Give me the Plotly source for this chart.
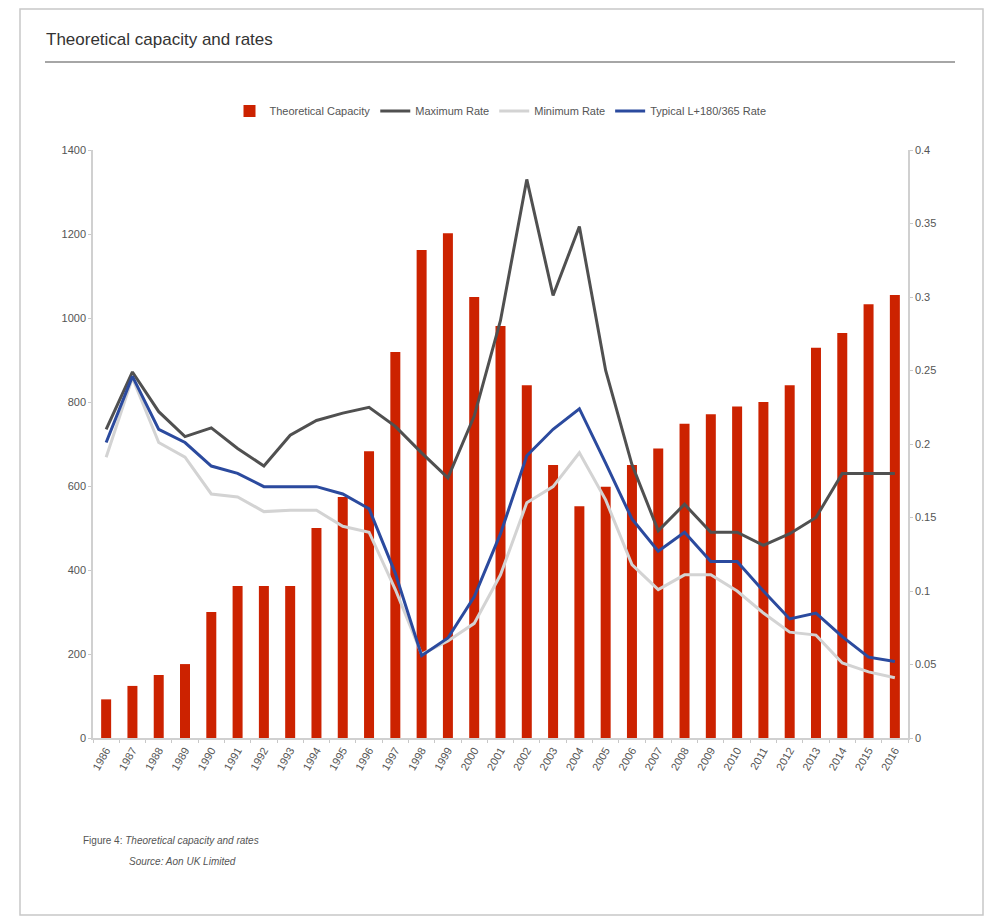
import plotly.graph_objects as go

years = [str(y) for y in range(1986, 2017)]
capacity = [92, 124, 150, 176, 300, 362, 362, 362, 500, 574, 683, 919, 1162, 1202, 1050, 981,
            840, 650, 552, 598, 650, 689, 748, 771, 789, 800, 840, 929, 964, 1033, 1055]
max_rate = [0.210, 0.249, 0.222, 0.205, 0.211, 0.197, 0.185, 0.206, 0.216, 0.221, 0.225, 0.212,
            0.194, 0.177, 0.219, 0.284, 0.380, 0.301, 0.348, 0.250, 0.186, 0.141, 0.159, 0.140,
            0.140, 0.131, 0.139, 0.150, 0.180, 0.180, 0.180]
min_rate = [0.191, 0.245, 0.201, 0.191, 0.166, 0.164, 0.154, 0.155, 0.155, 0.144, 0.140, 0.101,
            0.057, 0.066, 0.078, 0.111, 0.160, 0.171, 0.194, 0.162, 0.118, 0.101, 0.111, 0.111,
            0.100, 0.085, 0.072, 0.070, 0.051, 0.045, 0.041]
typical_rate = [0.201, 0.246, 0.210, 0.201, 0.185, 0.180, 0.171, 0.171, 0.171, 0.166, 0.156, 0.112,
                0.056, 0.068, 0.096, 0.139, 0.192, 0.210, 0.224, 0.187, 0.149, 0.127, 0.140, 0.120,
                0.120, 0.100, 0.081, 0.085, 0.069, 0.055, 0.052]

FONT = "Liberation Sans Narrow, Liberation Sans, Arial, sans-serif"

fig = go.Figure()
fig.add_trace(go.Bar(x=years, y=capacity, name="Theoretical Capacity",
                     marker=dict(color="#CC2200", line=dict(width=0)), width=0.38))
fig.add_trace(go.Scatter(x=years, y=max_rate, name="Maximum Rate", mode="lines",
                         line=dict(color="#505050", width=3), yaxis="y2"))
fig.add_trace(go.Scatter(x=years, y=min_rate, name="Minimum Rate", mode="lines",
                         line=dict(color="#D3D3D3", width=3), yaxis="y2"))
fig.add_trace(go.Scatter(x=years, y=typical_rate, name="Typical L+180/365 Rate", mode="lines",
                         line=dict(color="#2B4A9E", width=3), yaxis="y2"))

# page body has an 8px margin; plot area target in screen pixels
OFF = 8
W, H = 996 - OFF, 923 - OFF
L, R, T, B = 93, 908, 150, 738
pw, ph = R - L, B - T

def px(x):
    return (x - L) / pw

def py(y):
    return (B - y) / ph

axis_common = dict(showgrid=False, zeroline=False, showline=True, linecolor="#D0D0D0",
                   linewidth=1.5, ticks="outside", ticklen=3, tickcolor="#C8C8C8",
                   tickfont=dict(family=FONT, size=11, color="#555555"))

fig.update_layout(
    width=W, height=H,
    margin=dict(l=L - OFF, r=W - (R - OFF), t=T - OFF, b=H - (B - OFF)),
    paper_bgcolor="white", plot_bgcolor="white",
    font=dict(family=FONT, color="#444444"),
    showlegend=True,
    legend=dict(orientation="h", x=0.5, xanchor="center", y=py(111), yanchor="middle",
                font=dict(family=FONT, size=11, color="#555555"),
                itemwidth=30, tracegroupgap=0, traceorder="normal"),
    xaxis=dict(type="category", range=[-0.5, 30.5], tickangle=-60, tickson="boundaries",
               **axis_common),
    yaxis=dict(range=[0, 1400], dtick=200, **axis_common),
    yaxis2=dict(range=[0, 0.4], dtick=0.05, overlaying="y", side="right", **axis_common),
    bargap=0.6,
    shapes=[
        dict(type="rect", xref="paper", yref="paper", x0=px(20), x1=px(983), y0=py(915), y1=py(9),
             line=dict(color="#C8C8C8", width=1.5), layer="below"),
        dict(type="line", xref="paper", yref="paper", x0=px(45), x1=px(955), y0=py(62), y1=py(62),
             line=dict(color="#888888", width=1.5)),
    ],
    annotations=[
        dict(text="Theoretical capacity and rates", xref="paper", yref="paper",
             x=px(44), y=py(40), xanchor="left", yanchor="middle", showarrow=False,
             font=dict(family=FONT, size=17, color="#333333")),
        dict(text="Figure 4: <i>Theoretical capacity and rates</i>", xref="paper", yref="paper",
             x=px(81), y=py(840), xanchor="left", yanchor="middle", showarrow=False,
             font=dict(family=FONT, size=10, color="#555555")),
        dict(text="<i>Source: Aon UK Limited</i>", xref="paper", yref="paper",
             x=px(127), y=py(861), xanchor="left", yanchor="middle", showarrow=False,
             font=dict(family=FONT, size=10, color="#555555")),
    ],
)

fig.write_html("out.html")
